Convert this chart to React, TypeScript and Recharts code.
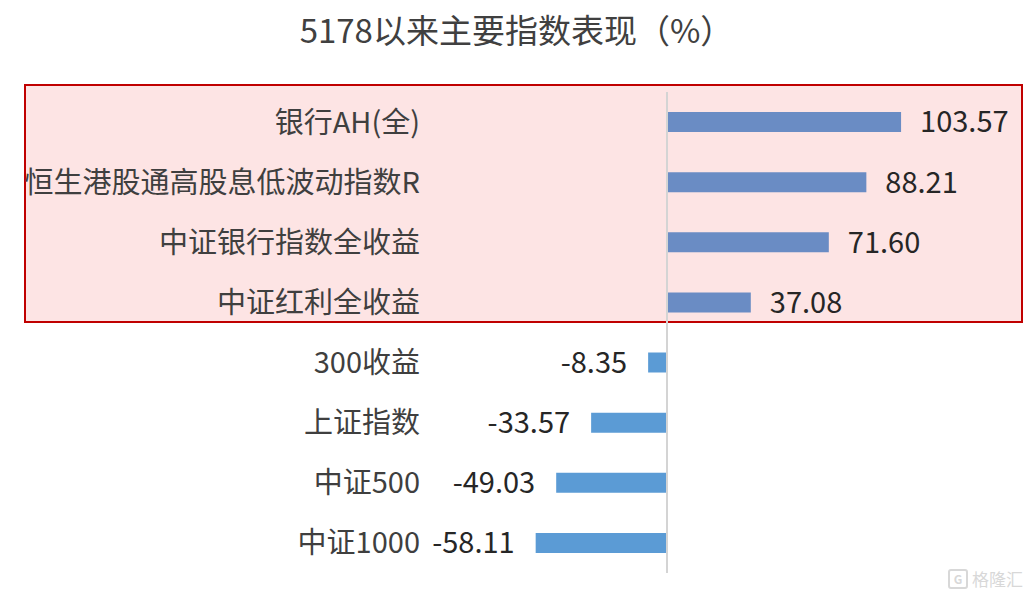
import { BarChart, Bar, XAxis, YAxis, Cell, LabelList, ReferenceLine } from "recharts";

const categories = [
  "银行AH(全)",
  "恒生港股通高股息低波动指数R",
  "中证银行指数全收益",
  "中证红利全收益",
  "300收益",
  "上证指数",
  "中证500",
  "中证1000",
];
const values = [103.57, 88.21, 71.6, 37.08, -8.35, -33.57, -49.03, -58.11];
const title = "5178以来主要指数表现（%）";
const watermark = "格隆汇";

const data = categories.map((name, i) => ({ name, value: values[i] }));

const FONT = '"Noto Sans CJK SC", "Noto Sans", sans-serif';

function CategoryTick({ x, y, payload }: any) {
  return (
    <text x={x - 13} y={y} dy="0.36em" textAnchor="end" fontSize={29} fill="#3f3f3f">
      {payload.value}
    </text>
  );
}

function ValueLabel({ x, y, width, height, value }: any) {
  const left = Math.min(x, x + width);
  const right = Math.max(x, x + width);
  const pos = value >= 0;
  return (
    <text
      x={pos ? right + 19 : left - 21}
      y={y + height / 2}
      dy="0.36em"
      textAnchor={pos ? "start" : "end"}
      fontSize={29}
      fill="#262626"
    >
      {Number(value).toFixed(2)}
    </text>
  );
}

export default function App() {
  return (
    <div style={{ position: "relative", width: 1033, height: 597, fontFamily: FONT, background: "#fff" }}>
      <style>{`body{margin:0}`}</style>
      <div
        style={{
          position: "absolute",
          top: 6,
          left: 0,
          width: 1033,
          textAlign: "center",
          fontSize: 33,
          color: "#404040",
          lineHeight: "46px",
        }}
      >
        {title}
      </div>
      <div
        style={{
          position: "absolute",
          left: 24,
          top: 84,
          width: 999,
          height: 239,
          boxSizing: "border-box",
          border: "2px solid #c00000",
          background: "#fde4e4",
        }}
      />
      <div style={{ position: "absolute", left: 0, top: 0 }}>
        <BarChart
          layout="vertical"
          width={1033}
          height={597}
          data={data}
          margin={{ top: 92, right: 27, bottom: 24, left: 0 }}
        >
          <XAxis type="number" domain={[-100, 150]} hide />
          <YAxis
            type="category"
            dataKey="name"
            width={441}
            axisLine={false}
            tickLine={false}
            tick={<CategoryTick />}
            interval={0}
          />
          <Bar dataKey="value" barSize={20} isAnimationActive={false}>
            {data.map((d, i) => (
              <Cell key={i} fill={d.value >= 0 ? "#6a8cc4" : "#5b9bd5"} />
            ))}
            <LabelList dataKey="value" content={<ValueLabel />} />
          </Bar>
          <ReferenceLine x={0} stroke="#d4d4d4" strokeWidth={2} />
        </BarChart>
      </div>
      <div
        style={{
          position: "absolute",
          right: 10,
          bottom: 6,
          fontSize: 17,
          color: "#d8d8d8",
          display: "flex",
          alignItems: "center",
          gap: 4,
        }}
      >
        <span
          style={{
            display: "inline-block",
            width: 16,
            height: 16,
            border: "2px solid #d8d8d8",
            borderRadius: 3,
            fontSize: 12,
            lineHeight: "16px",
            textAlign: "center",
            fontWeight: 700,
          }}
        >
          G
        </span>
        {watermark}
      </div>
    </div>
  );
}
